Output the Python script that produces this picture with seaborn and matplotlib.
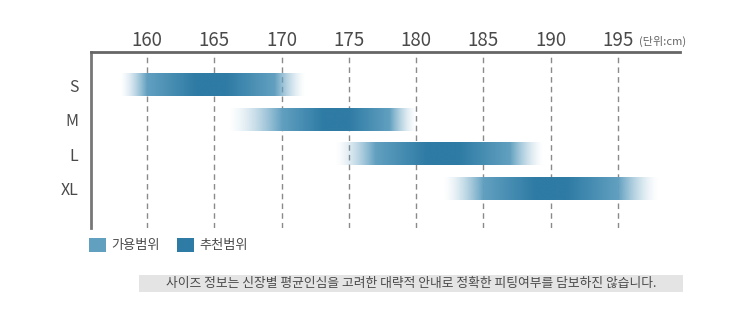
import numpy as np
import matplotlib
matplotlib.use("Agg")
import matplotlib.pyplot as plt
from matplotlib.patches import Rectangle
from matplotlib.colors import to_rgb
import seaborn as sns

# ---- data ----
sizes = ["S", "M", "L", "XL"]
avail_min = [158.0, 166.0, 174.0, 182.0]
rec_min = [160.0, 170.0, 177.0, 185.0]
rec_max = [169.5, 178.0, 187.0, 195.0]
avail_max = [171.8, 180.0, 189.5, 198.0]
ticks = [160, 165, 170, 175, 180, 185, 190, 195]
unit_label = "(단위:cm)"
legend_labels = ["가용범위", "추천범위"]
note = "사이즈 정보는 신장별 평균인심을 고려한 대략적 안내로 정확한 피팅여부를 담보하진 않습니다."

sns.set_theme(style="white")
plt.rcParams["font.family"] = ["Noto Sans CJK KR", "DejaVu Sans"]

DARK = "#2e7ba5"
LIGHT = "#62a0c0"
TXT = "#4a4a4a"

fig = plt.figure(figsize=(7.46, 3.21), dpi=100)
ax = fig.add_axes([91 / 746, 1 - 228 / 321, (680 - 91) / 746, (228 - 52) / 321])

x0, x1 = 155.84, 199.6
ax.set_xlim(x0, x1)
ax.set_ylim(4.145, -0.957)

# gridlines
for t in ticks:
    ax.axvline(t, color="#8a8a8a", lw=1.0, ls=(0, (4, 3)), zorder=1)

dark = np.array(to_rgb(DARK))
light = np.array(to_rgb(LIGHT))
bh = 0.64
for i, s in enumerate(sizes):
    a0, r0, r1, a1 = avail_min[i], rec_min[i], rec_max[i], avail_max[i]
    w = r1 - r0
    xs = np.linspace(a0, a1, 400)
    stops = [a0, r0, r0 + 0.38 * w, r1 - 0.38 * w, r1, a1]
    dk = np.interp(xs, stops, [0, 0, 1, 1, 0, 0])
    al = np.interp(xs, stops, [0, 1, 1, 1, 1, 0]) ** 1.5
    cols = light[None, :] * (1 - dk[:, None]) + dark[None, :] * dk[:, None]
    rgba = np.concatenate([cols, al[:, None]], axis=1)[None, :, :]
    ax.imshow(rgba, extent=(a0, a1, i + bh / 2, i - bh / 2), aspect="auto",
              interpolation="bilinear", zorder=2)

ax.set_xlim(x0, x1)
ax.set_ylim(4.145, -0.957)

ax.xaxis.tick_top()
ax.set_xticks(ticks)
ax.set_xticklabels([str(t) for t in ticks], fontsize=13.5, color=TXT, fontweight="light")
ax.tick_params(axis="x", length=0, pad=0.5)
ax.set_yticks(range(len(sizes)))
ax.set_yticklabels(sizes, fontsize=11.5, color=TXT, fontweight="light")
ax.tick_params(axis="y", length=0, pad=9)

for side in ["right", "bottom"]:
    ax.spines[side].set_visible(False)
ax.spines["top"].set_color("#666666")
ax.spines["top"].set_linewidth(2)
ax.spines["left"].set_color("#777777")
ax.spines["left"].set_linewidth(2)

fig.text(639 / 746, 1 - 41 / 321, unit_label, fontsize=8, color="#666666",
         va="center", ha="left", fontweight="light")

# legend
for (xl, col, lab, xt) in [(89, LIGHT, legend_labels[0], 111), (177, DARK, legend_labels[1], 199)]:
    fig.add_artist(Rectangle((xl / 746, 1 - 252 / 321), 17 / 746, 14 / 321,
                             transform=fig.transFigure, color=col, lw=0))
    fig.text(xt / 746, 1 - 245 / 321, lab, fontsize=9.5, color=TXT, va="center", ha="left")

# footer note
fig.add_artist(Rectangle((139 / 746, 1 - 292 / 321), (683 - 139) / 746, 17 / 321,
                         transform=fig.transFigure, color="#e4e4e4", lw=0))
fig.text(411 / 746, 1 - 283.5 / 321, note, fontsize=9.2, color=TXT, va="center", ha="center")

fig.savefig("out.png", dpi=100)
